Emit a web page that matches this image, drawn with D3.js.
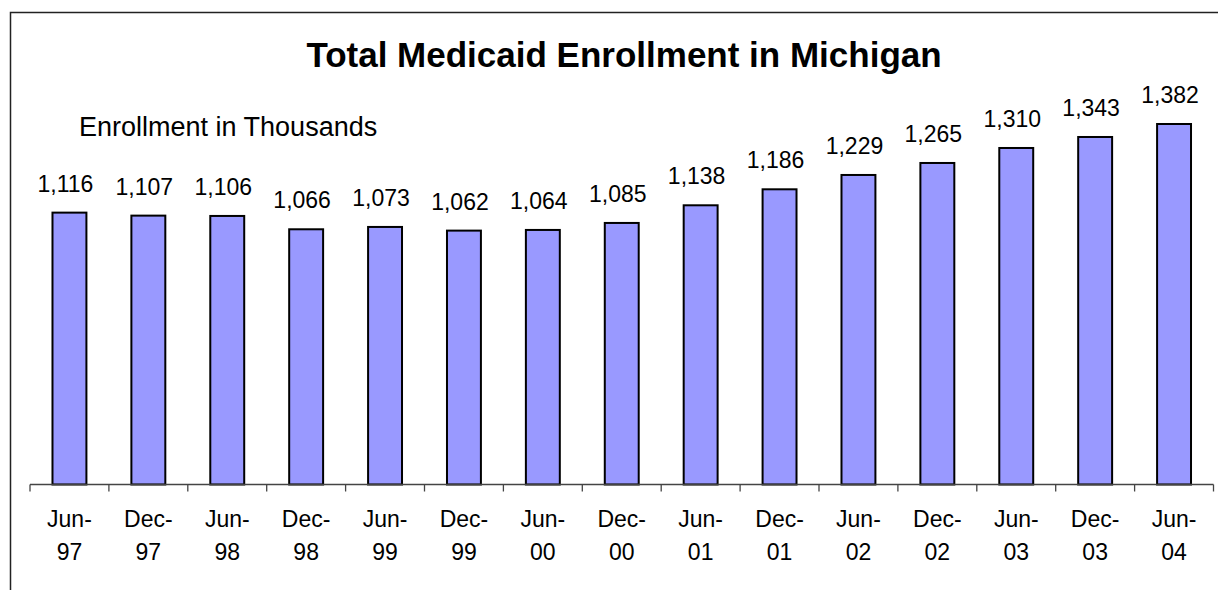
<!DOCTYPE html>
<html>
<head>
<meta charset="utf-8">
<script src="https://cdn.jsdelivr.net/npm/d3@7"></script>
<style>
  html, body { margin: 0; padding: 0; background: #fff; }
  svg { display: block; font-family: "Liberation Sans", Arial, sans-serif; }
</style>
</head>
<body>
<svg id="chart" width="1218" height="590"></svg>
<script>
// Semiannual enrollment snapshots (thousands)
const monthLabels = ["Jun-", "Dec-", "Jun-", "Dec-", "Jun-", "Dec-", "Jun-", "Dec-", "Jun-", "Dec-", "Jun-", "Dec-", "Jun-", "Dec-", "Jun-"];
const yearLabels = ["97", "97", "98", "98", "99", "99", "00", "00", "01", "01", "02", "02", "03", "03", "04"];
const enrollment = [1116, 1107, 1106, 1066, 1073, 1062, 1064, 1085, 1138, 1186, 1229, 1265, 1310, 1343, 1382];
const valueAxisDomain = [300, 1400];

const categories = monthLabels.map((m, i) => m + yearLabels[i]);

const svg = d3.select("#chart");

// Frame around the chart
svg.append("rect")
  .attr("x", 10.5).attr("y", 12.5)
  .attr("width", 1220).attr("height", 600)
  .attr("fill", "none").attr("stroke", "#222").attr("stroke-width", 1.5);

const x = d3.scaleBand()
  .domain(categories)
  .range([30, 1213.5])
  .paddingInner(0.57)
  .paddingOuter(0.285);

const y = d3.scaleLinear()
  .domain(valueAxisDomain)
  .range([484.5, 118]);

// Title
svg.append("text")
  .attr("x", 624).attr("y", 67)
  .attr("text-anchor", "middle")
  .attr("font-size", 35).attr("font-weight", "bold")
  .attr("fill", "#000")
  .text("Total Medicaid Enrollment in Michigan");

// Unit note
svg.append("text")
  .attr("x", 79).attr("y", 136)
  .attr("font-size", 27)
  .attr("fill", "#000")
  .text("Enrollment in Thousands");

// Bars
svg.append("g").selectAll("rect")
  .data(enrollment)
  .join("rect")
  .attr("x", (d, i) => x(categories[i]))
  .attr("y", d => y(d))
  .attr("width", x.bandwidth())
  .attr("height", d => y(valueAxisDomain[0]) - y(d))
  .attr("fill", "#9999FF")
  .attr("stroke", "#000")
  .attr("stroke-width", 2);

// Value labels
svg.append("g").selectAll("text")
  .data(enrollment)
  .join("text")
  .attr("x", (d, i) => x(categories[i]) + x.bandwidth() / 2 - 4)
  .attr("y", d => y(d) - 21)
  .attr("text-anchor", "middle")
  .attr("font-size", 23)
  .attr("fill", "#000")
  .text(d => d3.format(",")(d));

// Category axis: baseline with ticks at category boundaries
const axisY = y(valueAxisDomain[0]);
const [x0, x1] = x.range();
svg.append("line")
  .attr("x1", x0).attr("x2", x1)
  .attr("y1", axisY).attr("y2", axisY)
  .attr("stroke", "#444").attr("stroke-width", 1.3);

const boundaries = d3.range(categories.length + 1).map(i => x0 + i * x.step());
svg.append("g").selectAll("line")
  .data(boundaries)
  .join("line")
  .attr("x1", d => d).attr("x2", d => d)
  .attr("y1", axisY).attr("y2", axisY + 7)
  .attr("stroke", "#444").attr("stroke-width", 1.3);

const labels = svg.append("g").selectAll("text")
  .data(categories)
  .join("text")
  .attr("text-anchor", "middle")
  .attr("font-size", 23)
  .attr("fill", "#000");
labels.append("tspan")
  .attr("x", d => x(d) + x.bandwidth() / 2)
  .attr("y", 527)
  .text((d, i) => monthLabels[i]);
labels.append("tspan")
  .attr("x", d => x(d) + x.bandwidth() / 2)
  .attr("y", 560)
  .text((d, i) => yearLabels[i]);
</script>
</body>
</html>
